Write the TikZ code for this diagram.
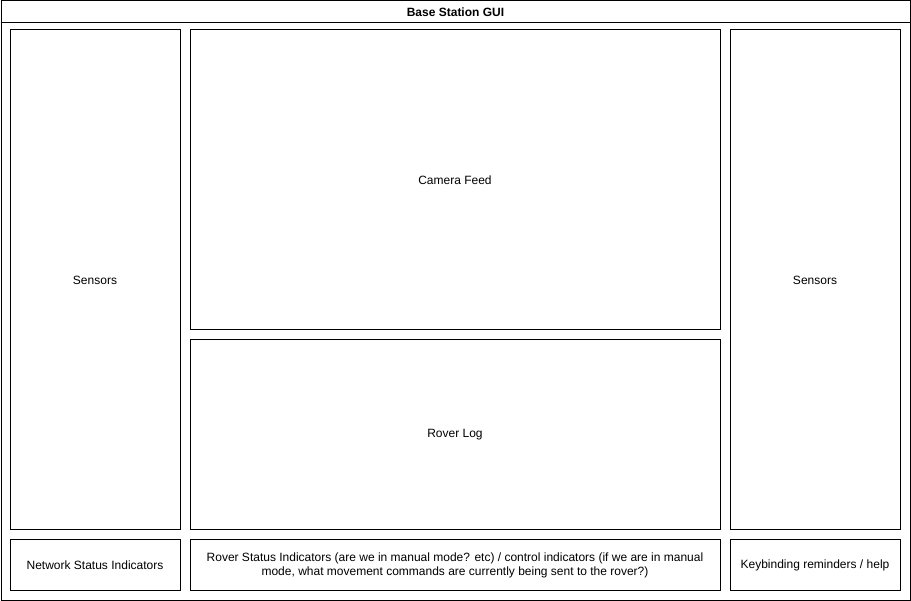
\documentclass[tikz,border=0pt]{standalone}
\usepackage{fontspec}
\setmainfont{Liberation Sans}
\begin{document}
\begin{tikzpicture}[x=1pt,y=-1pt,
  panel/.style={draw=black,line width=1pt,fill=white,inner sep=0pt,align=center,font=\fontsize{12}{14}\selectfont}]
\useasboundingbox (0,0) rectangle (911,601);
\node[panel,minimum width=909.5pt,minimum height=599pt,anchor=north west] (outer) at (0.5,0.5) {};
\draw[line width=1pt] (0.5,23) coordinate (tl) -- (910,23) coordinate (tr);
\node[font=\bfseries\fontsize{12}{14}\selectfont] (title) at (455.5,12) {Base Station GUI};
\node[panel,minimum width=170pt,minimum height=500pt] (lsens) at (95,280) {Sensors};
\node[panel,minimum width=530pt,minimum height=300pt] (cam) at (455,180) {Camera Feed};
\node[panel,minimum width=530pt,minimum height=190pt] (log) at (455,435) {Rover Log};
\node[panel,minimum width=170pt,minimum height=500pt] (rsens) at (815,280) {Sensors};
\node[panel,minimum width=170pt,minimum height=50pt] (net) at (95,565) {Network Status Indicators};
\node[panel,minimum width=530pt,minimum height=50pt] (rover) at (455,565) {Rover Status Indicators (are we in manual mode? etc) / control indicators (if we are in manual\\mode, what movement commands are currently being sent to the rover?)};
\node[panel,minimum width=170pt,minimum height=50pt] (keys) at (815,565) {Keybinding reminders / help};
\end{tikzpicture}
\end{document}
